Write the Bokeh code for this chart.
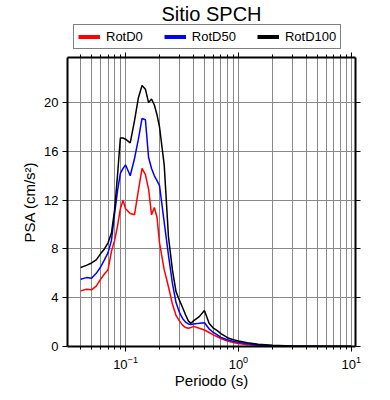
from bokeh.plotting import figure
from bokeh.layouts import column
from bokeh.models import Range1d, LogAxis, LinearAxis, FixedTicker, Legend, LegendItem
from bokeh.embed import file_html
from bokeh.resources import INLINE

periods = [0.04, 0.045, 0.05, 0.055, 0.06, 0.065, 0.07, 0.075, 0.08, 0.085, 0.09, 0.095,
           0.1, 0.11, 0.12, 0.13, 0.14, 0.15, 0.16, 0.17, 0.18, 0.19, 0.2, 0.22, 0.24,
           0.26, 0.28, 0.3, 0.32, 0.34, 0.36, 0.38, 0.4, 0.45, 0.5, 0.55, 0.6, 0.65,
           0.7, 0.8, 0.9, 1.0, 1.2, 1.5, 2.0, 3.0, 5.0, 10.0]
rotd0 = [4.56, 4.7, 4.65, 4.95, 5.5, 5.95, 6.3, 7.8, 8.7, 9.9, 11.3, 12.0,
         11.3, 10.9, 10.8, 12.8, 14.6, 14.1, 12.9, 10.8, 11.4, 10.6, 8.5, 6.3, 4.9,
         3.5, 2.55, 2.1, 1.75, 1.55, 1.5, 1.55, 1.65, 1.5, 1.35, 1.15, 0.95, 0.8,
         0.65, 0.45, 0.33, 0.25, 0.15, 0.1, 0.05, 0.03, 0.02, 0.01]
rotd50 = [5.52, 5.65, 5.6, 6.0, 6.5, 7.1, 7.7, 8.7, 10.9, 12.8, 14.2, 14.6,
          14.9, 14.0, 15.4, 17.0, 18.7, 18.6, 15.5, 14.6, 14.0, 13.6, 13.2, 10.2, 7.5,
          5.2, 3.6, 2.8, 2.3, 2.0, 1.85, 1.8, 1.85, 1.9, 1.95, 1.45, 1.15, 0.95,
          0.75, 0.55, 0.42, 0.35, 0.22, 0.13, 0.07, 0.04, 0.02, 0.01]
rotd100 = [6.48, 6.65, 6.85, 7.1, 7.6, 8.0, 8.5, 9.3, 11.2, 14.1, 17.1, 17.1,
           17.0, 16.7, 18.5, 20.4, 21.4, 21.1, 20.0, 20.3, 19.8, 19.0, 18.0, 14.9, 9.0,
           6.3, 4.5, 3.8, 3.2, 2.6, 2.1, 1.9, 2.1, 2.45, 2.95, 1.9, 1.5, 1.3,
           1.05, 0.72, 0.55, 0.45, 0.3, 0.18, 0.1, 0.05, 0.03, 0.02]

series_names = ["RotD0", "RotD50", "RotD100"]
series_colors = ["#ff0000", "#0000ff", "#000000"]
series_values = [rotd0, rotd50, rotd100]
title_text = "Sitio SPCH"

x_major = [0.1, 1.0, 10.0]
x_minor = [m * 10.0 ** e for e in (-2, -1, 0) for m in range(2, 10)]
y_ticks = [0, 4, 8, 12, 16, 20]

FONT = "Liberation Sans"
W = 380
H1 = 50                      # header (title + legend)
BL, BR, BT, BB = 67, 25, 7, 52
H2 = 296 + BB

# ---------------- header figure: title + legend ----------------
# ranges far from the data, so the legend-only lines are not visible
head = figure(width=W, height=H1, x_range=Range1d(-2, -1), y_range=Range1d(-2, -1),
              output_backend="svg", toolbar_location=None,
              x_axis_location=None, y_axis_location=None, title=title_text,
              min_border_left=BL, min_border_right=BR, min_border_top=0, min_border_bottom=0)
head.outline_line_color = None
head.grid.visible = False
head.background_fill_color = "white"
head.border_fill_color = "white"
head.title.align = "center"
head.title.text_font = FONT
head.title.text_font_size = "20px"
head.title.text_font_style = "normal"
head.title.text_color = "black"
head.title.standoff = 0

items = []
for name, color, vals in zip(series_names, series_colors, series_values):
    r = head.line(periods, vals, line_color=color, line_width=4)
    items.append(LegendItem(label=name, renderers=[r]))

legend = Legend(items=items, orientation="horizontal", location=(6, 1),
                glyph_width=22, glyph_height=13, label_height=13, label_standoff=6,
                spacing=21, padding=4, margin=0,
                border_line_color="black", border_line_width=1.5,
                label_text_font=FONT, label_text_font_size="13px", label_text_color="black",
                background_fill_color="white", background_fill_alpha=1)
head.add_layout(legend, "center")

# ---------------- main chart ----------------
p = figure(width=W, height=H2, x_axis_type="log",
           x_range=Range1d(0.0306, 10.9), y_range=Range1d(0, 23.7),
           output_backend="svg", toolbar_location=None,
           min_border_left=BL, min_border_right=BR, min_border_top=BT, min_border_bottom=BB)
p.outline_line_color = None
p.background_fill_color = "white"
p.border_fill_color = "white"

xt = FixedTicker(ticks=x_major, minor_ticks=x_minor)
yt = FixedTicker(ticks=y_ticks)

xa = p.xaxis[0]
xa.ticker = xt
ya = p.yaxis[0]
ya.ticker = yt

for ax in (xa, ya):
    ax.axis_line_width = 2
    ax.axis_line_color = "black"
    ax.major_tick_in = 0
    ax.major_tick_out = 5
    ax.minor_tick_in = 0
    ax.minor_tick_out = 3
    ax.major_tick_line_color = "black"
    ax.minor_tick_line_color = "black"
    ax.major_label_text_font = FONT
    ax.major_label_text_font_size = "13px"
    ax.major_label_text_color = "black"
    ax.axis_label_text_font = FONT
    ax.axis_label_text_font_size = "15px"
    ax.axis_label_text_font_style = "normal"
    ax.axis_label_text_color = "black"
ya.minor_tick_line_color = None
xa.axis_label = "Periodo (s)"
ya.axis_label = "PSA (cm/s²)"
xa.major_label_standoff = 4
ya.major_label_standoff = 4
xa.axis_label_standoff = 0
ya.axis_label_standoff = 3

top = LogAxis(ticker=xt, major_label_text_font_size="1px", major_label_text_color=None,
              major_label_standoff=0,
              axis_line_width=2, major_tick_in=0, major_tick_out=5,
              minor_tick_in=0, minor_tick_out=3)
p.add_layout(top, "above")
right = LinearAxis(ticker=yt, major_label_text_font_size="1px", major_label_text_color=None,
                   major_label_standoff=0,
                   axis_line_width=2, major_tick_in=0, major_tick_out=5,
                   minor_tick_line_color=None)
p.add_layout(right, "right")

p.xgrid.ticker = xt
p.ygrid.ticker = yt
p.xgrid.grid_line_color = "#888888"
p.xgrid.grid_line_width = 1
p.xgrid.minor_grid_line_color = "#888888"
p.xgrid.minor_grid_line_width = 1
p.ygrid.grid_line_color = "#888888"
p.ygrid.grid_line_width = 1

for vals, color in zip(series_values, series_colors):
    p.line(periods, vals, line_color=color, line_width=1.5)

layout = column(head, p, spacing=0)
open("out.html", "w").write(file_html(layout, INLINE))
